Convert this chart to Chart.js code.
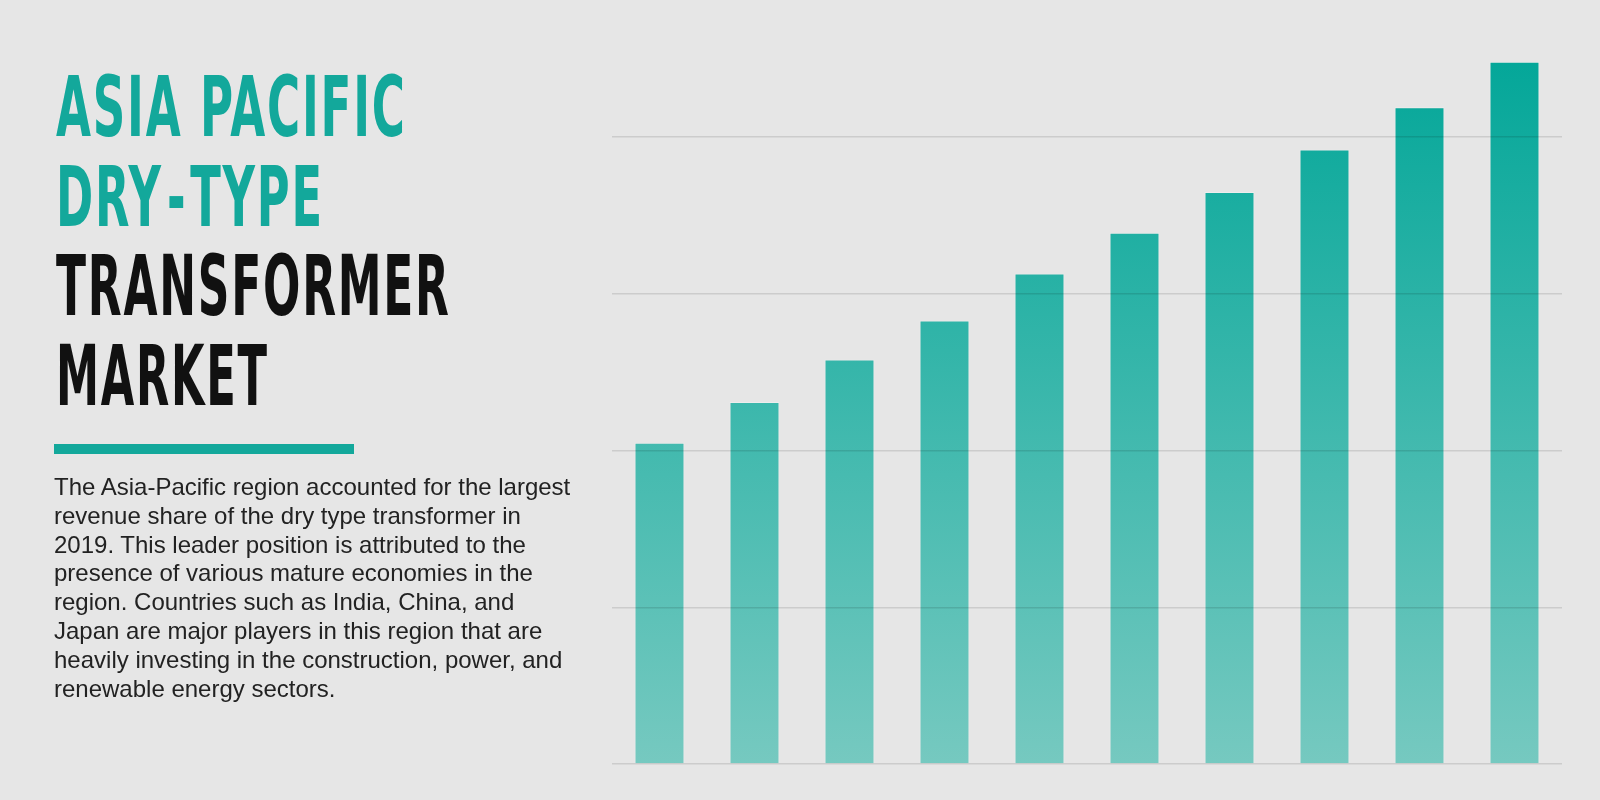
<!DOCTYPE html>
<html>
<head>
<meta charset="utf-8">
<script src="https://cdn.jsdelivr.net/npm/chart.js@4.4.1/dist/chart.umd.min.js"></script>
<style>
  html, body { margin:0; padding:0; background:#e6e6e6; }
  #wrap { position:relative; width:1600px; height:800px; overflow:hidden; background:#e6e6e6; }
  #c { position:absolute; left:0; top:0; }
  .tl { position:absolute; left:56px; white-space:nowrap; font-family:"Liberation Sans Narrow","DejaVu Sans Condensed","Liberation Sans",sans-serif;
        font-weight:bold; font-size:84px; line-height:90px; transform-origin:0 0; letter-spacing:3px; }
  .tl .hy { margin:0 5px 0 7px; }
  .teal { color:#13a89b; }
  .dark { color:#111111; }
  #rule { position:absolute; left:54px; top:444px; width:300px; height:10px; background:#13a89b; }
  #para { position:absolute; left:54px; top:473px; font-family:"Liberation Sans",Arial,sans-serif; font-size:24px;
          line-height:28.8px; color:#222222; white-space:nowrap; }
</style>
</head>
<body>
<div id="wrap">
  <canvas id="c" width="1600" height="800"></canvas>
  <div class="tl teal" style="top:62px" data-w="349">ASIA PACIFIC</div>
  <div class="tl teal" style="top:152px" data-w="266">DRY<span class="hy">-</span>TYPE</div>
  <div class="tl dark" style="top:241px" data-w="393">TRANSFORMER</div>
  <div class="tl dark" style="top:331px" data-w="211">MARKET</div>
  <div id="rule"></div>
  <div id="para">The Asia-Pacific region accounted for the largest<br>revenue share of the dry type transformer in<br>2019. This leader position is attributed to the<br>presence of various mature economies in the<br>region. Countries such as India, China, and<br>Japan are major players in this region that are<br>heavily investing in the construction, power, and<br>renewable energy sectors.</div>
</div>
<script>
// ---- data ----
const categories = ['2019','2020','2021','2022','2023','2024','2025','2026','2027','2028'];
const marketValues = [2.05, 2.31, 2.58, 2.83, 3.13, 3.39, 3.65, 3.92, 4.19, 4.48];
const gridTicks = [0, 1, 2, 3, 4];

// ---- title width fit (condensed display face) ----
(function(){
  document.querySelectorAll('.tl').forEach(el => {
    const r = document.createRange();
    r.selectNodeContents(el);
    const w = r.getBoundingClientRect().width - 3; // drop trailing letter-spacing
    el.style.transform = 'scaleX(' + (parseFloat(el.dataset.w) / w) + ')';
  });
})();

const ctx = document.getElementById('c').getContext('2d');
function barGradient(context){
  const chart = context.chart;
  const area = chart.chartArea;
  if (!area) return '#3db8ad';
  const g = chart.ctx.createLinearGradient(0, area.top, 0, area.bottom);
  g.addColorStop(0, '#01a698');
  g.addColorStop(1, '#76c9c0');
  return g;
}
new Chart(ctx, {
  type: 'bar',
  data: {
    labels: categories,
    datasets: [{
      data: marketValues,
      backgroundColor: barGradient,
      borderColor: 'rgba(255,255,255,0.28)',
      borderWidth: {top:1, left:1, right:1, bottom:0},
      borderSkipped: 'bottom',
      categoryPercentage: 1.0,
      barPercentage: 0.526
    }]
  },
  options: {
    responsive: false,
    animation: false,
    devicePixelRatio: 1,
    layout: { padding: { left: 612, right: 38, top: 43, bottom: 36 } },
    plugins: { legend: { display: false }, tooltip: { enabled: false } },
    scales: {
      x: { display: false, offset: true },
      y: {
        min: 0, max: 4.6,
        afterBuildTicks: (scale) => { scale.ticks = gridTicks.map(v => ({ value: v })); },
        afterFit: (scale) => { scale.width = 0; },
        ticks: { display: false },
        border: { display: false },
        grid: { z: 1, drawTicks: false, color: 'rgba(0,0,0,0.11)', lineWidth: 1.5 }
      }
    }
  }
});
</script>
</body>
</html>
